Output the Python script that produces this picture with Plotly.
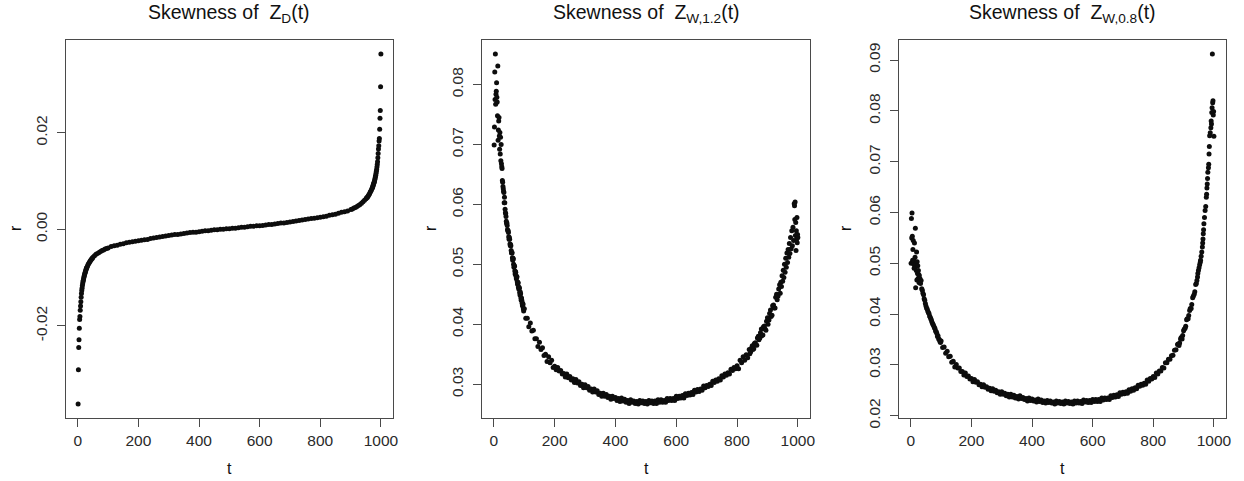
import plotly.graph_objects as go

FONT = "Liberation Sans, Arial, Helvetica, sans-serif"
W, H = 1244, 481

# ---------------- Skewness of Z_D(t) ----------------
T_ZD_LEFT = [1, 2, 3, 4, 5, 6, 7, 8, 9, 10, 11, 12, 13, 14, 15, 16, 17, 18, 19, 20,
             21, 22, 23, 24, 25, 26, 27, 28, 29, 30, 32, 34, 36, 38, 40, 42, 44, 46, 48, 50,
             55, 60, 65, 70, 75, 80, 85, 90, 95, 100]
R_ZD_LEFT = [-0.0362, -0.0291, -0.0245, -0.0229, -0.0205, -0.0187, -0.0181, -0.0168, -0.0159, -0.0150,
             -0.0141, -0.0133, -0.0127, -0.0122, -0.0117, -0.0113, -0.0109, -0.0106, -0.0103, -0.0100,
             -0.0097, -0.0095, -0.0092, -0.0090, -0.0088, -0.0086, -0.0084, -0.0082, -0.0080, -0.0079,
             -0.0076, -0.0073, -0.0071, -0.0069, -0.0067, -0.0065, -0.0063, -0.0061, -0.0060, -0.0058,
             -0.0055, -0.0052, -0.0050, -0.0048, -0.0046, -0.0044, -0.0043, -0.0041, -0.0040, -0.0039]
T_ZD_MID = list(range(110, 900, 10))
R_ZD_MID = [-0.0036, -0.0034, -0.0033, -0.0031, -0.0030, -0.0028, -0.0027, -0.0026, -0.0025, -0.0024,
            -0.0023, -0.0022, -0.0021, -0.0019, -0.0018, -0.0017, -0.0016, -0.0015, -0.0014, -0.0013,
            -0.0012, -0.0011, -0.0011, -0.0010, -0.0009, -0.0008, -0.0007, -0.0006, -0.0006, -0.0005,
            -0.0004, -0.0003, -0.0003, -0.0002, -0.0001, -0.0001, 0.0000, 0.0000, 0.0001, 0.0001,
            0.0002, 0.0002, 0.0003, 0.0004, 0.0004, 0.0005, 0.0006, 0.0006, 0.0007, 0.0007,
            0.0008, 0.0009, 0.0010, 0.0010, 0.0011, 0.0012, 0.0013, 0.0013, 0.0014, 0.0015,
            0.0016, 0.0017, 0.0018, 0.0019, 0.0020, 0.0021, 0.0022, 0.0023, 0.0024, 0.0025,
            0.0026, 0.0027, 0.0029, 0.0030, 0.0031, 0.0033, 0.0035, 0.0036, 0.0038]
T_ZD_RIGHT = [901, 906, 911, 916, 921, 926, 931, 936, 941, 946, 951, 953, 955, 957, 959, 961, 963, 965,
              967, 969, 971, 972, 973, 974, 975, 976, 977, 978, 979, 980, 981, 982, 983, 984, 985, 986,
              987, 988, 989, 990, 991, 992, 993, 994, 995, 996, 997, 998, 999, 1000]
R_ZD_RIGHT = [0.0041, 0.0042, 0.0044, 0.0045, 0.0047, 0.0049, 0.0051, 0.0054, 0.0057, 0.0060,
              0.0063, 0.0065, 0.0066, 0.0068, 0.0070, 0.0072, 0.0074, 0.0077, 0.0079, 0.0082,
              0.0085, 0.0086, 0.0088, 0.0090, 0.0092, 0.0094, 0.0096, 0.0098, 0.0100, 0.0103,
              0.0106, 0.0109, 0.0112, 0.0116, 0.0120, 0.0124, 0.0129, 0.0134, 0.0140, 0.0148,
              0.0157, 0.0166, 0.0173, 0.0183, 0.0188, 0.0207, 0.0230, 0.0246, 0.0295, 0.0363]

# ---------------- Skewness of Z_W,1.2(t) ----------------
T_W12_LEFT = list(range(1, 35)) + list(range(36, 100, 2))
R_W12_LEFT = [0.0699, 0.0729, 0.0821, 0.0775, 0.0851, 0.0767, 0.0784, 0.0789, 0.0803, 0.0779,
              0.0771, 0.0748, 0.0831, 0.0707, 0.0724, 0.0739, 0.0745, 0.0714, 0.0692, 0.0720,
              0.0684, 0.0712, 0.0673, 0.0700, 0.0668, 0.0663, 0.0660, 0.0640, 0.0637, 0.0630,
              0.0626, 0.0622, 0.0620, 0.0603,
              0.0603, 0.0586, 0.0580, 0.0568, 0.0565, 0.0556, 0.0553, 0.0542, 0.0542, 0.0531,
              0.0531, 0.0519, 0.0519, 0.0507, 0.0509, 0.0495, 0.0497, 0.0484, 0.0487, 0.0476,
              0.0479, 0.0467, 0.0469, 0.0459, 0.0460, 0.0449, 0.0451, 0.0440, 0.0440, 0.0431,
              0.0433, 0.0422]
T_W12_EXTRA = list(range(35, 100, 2)) + list(range(842, 940, 5))
R_W12_EXTRA = [0.0612, 0.0592, 0.0585, 0.0572, 0.0569, 0.0558, 0.0556, 0.0546, 0.0545, 0.0534,
               0.0533, 0.0523, 0.0520, 0.0511, 0.0510, 0.0500, 0.0498, 0.0489, 0.0488, 0.0480,
               0.0480, 0.0471, 0.0470, 0.0462, 0.0462, 0.0453, 0.0454, 0.0444, 0.0444, 0.0435,
               0.0435, 0.0426, 0.0426,
               0.0351, 0.0360, 0.0358, 0.0368, 0.0366, 0.0377, 0.0374, 0.0386, 0.0381, 0.0396,
               0.0392, 0.0405, 0.0400, 0.0418, 0.0413, 0.0431, 0.0427, 0.0445, 0.0441, 0.0459]
T_W12_MID = list(range(100, 945, 5))
R_W12_MID = [0.0426, 0.0410, 0.0410, 0.0396, 0.0402, 0.0389, 0.0390, 0.0376, 0.0376, 0.0363,
             0.0370, 0.0358, 0.0361, 0.0348, 0.0350, 0.0338, 0.0346, 0.0336, 0.0340, 0.0328,
             0.0330, 0.0324, 0.0328, 0.0322, 0.0323, 0.0317, 0.0318, 0.0312, 0.0317, 0.0311,
             0.0313, 0.0307, 0.0309, 0.0303, 0.0308, 0.0302, 0.0304, 0.0298, 0.0300, 0.0294,
             0.0299, 0.0294, 0.0296, 0.0290, 0.0292, 0.0287, 0.0292, 0.0287, 0.0289, 0.0283,
             0.0285, 0.0280, 0.0285, 0.0280, 0.0283, 0.0278, 0.0280, 0.0275, 0.0280, 0.0276,
             0.0278, 0.0273, 0.0276, 0.0271, 0.0277, 0.0272, 0.0275, 0.0270, 0.0273, 0.0268,
             0.0274, 0.0270, 0.0272, 0.0268, 0.0271, 0.0267, 0.0273, 0.0269, 0.0272, 0.0268,
             0.0271, 0.0267, 0.0273, 0.0269, 0.0272, 0.0268, 0.0272, 0.0268, 0.0274, 0.0270,
             0.0274, 0.0270, 0.0273, 0.0270, 0.0276, 0.0273, 0.0276, 0.0273, 0.0276, 0.0273,
             0.0280, 0.0276, 0.0280, 0.0277, 0.0281, 0.0277, 0.0284, 0.0281, 0.0285, 0.0282,
             0.0286, 0.0283, 0.0290, 0.0287, 0.0291, 0.0288, 0.0292, 0.0290, 0.0297, 0.0294,
             0.0298, 0.0296, 0.0300, 0.0298, 0.0305, 0.0303, 0.0307, 0.0305, 0.0309, 0.0307,
             0.0314, 0.0312, 0.0317, 0.0315, 0.0319, 0.0317, 0.0325, 0.0323, 0.0328, 0.0326,
             0.0331, 0.0326, 0.0340, 0.0336, 0.0346, 0.0340, 0.0349, 0.0344, 0.0358, 0.0354,
             0.0364, 0.0359, 0.0369, 0.0365, 0.0380, 0.0377,
             0.0392, 0.0382, 0.0397, 0.0390, 0.0411, 0.0407, 0.0424, 0.0415, 0.0432, 0.0427,
             0.0450, 0.0447, 0.0466]
T_W12_RIGHT = [942, 944, 946, 948, 950, 952, 954, 956, 958, 960, 962, 964, 966, 968, 970, 972, 974, 976,
               978, 980, 982, 984, 986, 988, 989, 990, 991, 992, 993, 994, 995, 996, 997, 998, 999, 1000]
R_W12_RIGHT = [0.0452, 0.0470, 0.0463, 0.0481, 0.0472, 0.0490, 0.0478, 0.0500, 0.0487, 0.0510,
               0.0495, 0.0519, 0.0503, 0.0525, 0.0512, 0.0535, 0.0518, 0.0545, 0.0526, 0.0556,
               0.0531, 0.0562, 0.0540, 0.0601, 0.0598, 0.0575, 0.0604, 0.0548, 0.0570, 0.0523,
               0.0556, 0.0542, 0.0578, 0.0536, 0.0550, 0.0545]

# ---------------- Skewness of Z_W,0.8(t) ----------------
T_W08_LEFT = list(range(1, 29)) + list(range(30, 100, 2))
R_W08_LEFT = [0.0500, 0.0588, 0.0550, 0.0599, 0.0553, 0.0506, 0.0527, 0.0545, 0.0499, 0.0506,
              0.0490, 0.0540, 0.0493, 0.0512, 0.0569, 0.0452, 0.0499, 0.0486, 0.0522, 0.0467,
              0.0503, 0.0480, 0.0495, 0.0470, 0.0486, 0.0478, 0.0462, 0.0476,
              0.0470, 0.0460, 0.0466, 0.0450, 0.0447, 0.0441, 0.0438, 0.0430, 0.0427, 0.0421,
              0.0416, 0.0412, 0.0410, 0.0406, 0.0403, 0.0401, 0.0396, 0.0394, 0.0391, 0.0388,
              0.0384, 0.0381, 0.0379, 0.0376, 0.0373, 0.0371, 0.0366, 0.0365, 0.0362, 0.0356,
              0.0357, 0.0351, 0.0350, 0.0346, 0.0344]
T_W08_EXTRA = list(range(882, 940, 5))
R_W08_EXTRA = [0.0341, 0.0343, 0.0354, 0.0358, 0.0370, 0.0376, 0.0391, 0.0397, 0.0411, 0.0419,
               0.0435, 0.0444]
T_W08_MID = list(range(100, 945, 5))
R_W08_MID = [0.0347, 0.0334, 0.0335, 0.0323, 0.0327, 0.0316, 0.0317, 0.0305, 0.0307, 0.0296,
             0.0301, 0.0294, 0.0294, 0.0287, 0.0287, 0.0280, 0.0284, 0.0277, 0.0278, 0.0272,
             0.0273, 0.0267, 0.0271, 0.0266, 0.0267, 0.0261, 0.0262, 0.0257, 0.0261, 0.0256,
             0.0257, 0.0252, 0.0254, 0.0249, 0.0253, 0.0248, 0.0250, 0.0245, 0.0247, 0.0242,
             0.0247, 0.0242, 0.0244, 0.0239, 0.0242, 0.0237, 0.0242, 0.0237, 0.0240, 0.0235,
             0.0238, 0.0233, 0.0239, 0.0234, 0.0236, 0.0232, 0.0234, 0.0229, 0.0235, 0.0230,
             0.0233, 0.0229, 0.0231, 0.0227, 0.0233, 0.0228, 0.0231, 0.0226, 0.0229, 0.0225,
             0.0230, 0.0226, 0.0229, 0.0225, 0.0227, 0.0223, 0.0229, 0.0225, 0.0228, 0.0224,
             0.0227, 0.0223, 0.0229, 0.0225, 0.0228, 0.0224, 0.0227, 0.0223, 0.0229, 0.0225,
             0.0229, 0.0225, 0.0228, 0.0224, 0.0231, 0.0227, 0.0230, 0.0226, 0.0230, 0.0226,
             0.0232, 0.0228, 0.0232, 0.0228, 0.0232, 0.0228, 0.0235, 0.0231, 0.0235, 0.0232,
             0.0235, 0.0232, 0.0239, 0.0236, 0.0240, 0.0237, 0.0241, 0.0238, 0.0245, 0.0242,
             0.0246, 0.0243, 0.0247, 0.0244, 0.0251, 0.0248, 0.0253, 0.0250, 0.0255, 0.0253,
             0.0260, 0.0258, 0.0262, 0.0260, 0.0264, 0.0262, 0.0270, 0.0268, 0.0273, 0.0272,
             0.0277, 0.0275, 0.0284, 0.0282, 0.0288, 0.0288, 0.0295, 0.0294, 0.0304, 0.0304,
             0.0311, 0.0311, 0.0318, 0.0319, 0.0329, 0.0330,
             0.0340, 0.0338, 0.0351, 0.0351, 0.0367, 0.0372, 0.0389, 0.0391, 0.0407, 0.0411,
             0.0432, 0.0439, 0.0458]
T_W08_RIGHT = [942, 944, 946, 947, 949, 951, 953, 955, 956, 958, 960, 962, 963, 964, 965, 966, 967, 969,
               971, 973, 975, 976, 977, 978, 979, 980, 982, 983, 984, 985, 986, 988, 990, 991, 992, 993,
               994, 995, 996, 997, 998, 999, 1000]
R_W08_RIGHT = [0.0460, 0.0466, 0.0473, 0.0480, 0.0486, 0.0491, 0.0497, 0.0502, 0.0506, 0.0514,
               0.0522, 0.0532, 0.0540, 0.0548, 0.0558, 0.0566, 0.0578, 0.0590, 0.0604, 0.0612,
               0.0630, 0.0636, 0.0648, 0.0656, 0.0667, 0.0679, 0.0688, 0.0695, 0.0715, 0.0730,
               0.0751, 0.0757, 0.0767, 0.0780, 0.0774, 0.0797, 0.0806, 0.0912, 0.0816, 0.0820,
               0.0792, 0.0799, 0.0750]

T_TICKS = [0, 200, 400, 600, 800, 1000]
Y_TICKS = [
    [-0.02, 0.0, 0.02],
    [0.03, 0.04, 0.05, 0.06, 0.07, 0.08],
    [0.02, 0.03, 0.04, 0.05, 0.06, 0.07, 0.08, 0.09],
]
Y_LABELS = [
    ["-0.02", "0.00", "0.02"],
    ["0.03", "0.04", "0.05", "0.06", "0.07", "0.08"],
    ["0.02", "0.03", "0.04", "0.05", "0.06", "0.07", "0.08", "0.09"],
]
TITLES = [
    "Skewness of  Z<sub>D</sub>(t)",
    "Skewness of  Z<sub>W,1.2</sub>(t)",
    "Skewness of  Z<sub>W,0.8</sub>(t)",
]

SERIES = [
    (T_ZD_LEFT + T_ZD_MID + T_ZD_RIGHT, R_ZD_LEFT + R_ZD_MID + R_ZD_RIGHT),
    (T_W12_LEFT + T_W12_EXTRA + T_W12_MID + T_W12_RIGHT,
     R_W12_LEFT + R_W12_EXTRA + R_W12_MID + R_W12_RIGHT),
    (T_W08_LEFT + T_W08_EXTRA + T_W08_MID + T_W08_RIGHT,
     R_W08_LEFT + R_W08_EXTRA + R_W08_MID + R_W08_RIGHT),
]

# layout geometry (pixels)
BOX_X = [(66, 393), (482, 810), (899, 1226)]
BOX_Y = (40, 418)
YLAB_X = [15, 430, 845]

AX_COL = "#4a4a4a"
TXT_COL = "#2a2a2a"

fig = go.Figure()
annotations = []
for i, (ts, rs) in enumerate(SERIES):
    n = "" if i == 0 else str(i + 1)
    fig.add_trace(go.Scatter(
        x=ts, y=rs, mode="markers",
        marker=dict(size=5, color="#0d0d0d", line=dict(width=0)),
        xaxis="x" + n, yaxis="y" + n, showlegend=False, hoverinfo="x+y",
    ))
    tmin, tmax = min(ts), max(ts)
    rmin, rmax = min(rs), max(rs)
    tp = 0.04 * (tmax - tmin)
    rp = 0.04 * (rmax - rmin)
    x0, x1 = BOX_X[i]
    common = dict(
        showline=True, mirror=True, linecolor=AX_COL, linewidth=1,
        ticks="outside", ticklen=8, tickcolor=AX_COL, tickwidth=1,
        showgrid=False, zeroline=False, automargin=False,
        tickfont=dict(family=FONT, size=15.5, color=TXT_COL),
    )
    fig.layout["xaxis" + n] = dict(
        domain=[x0 / W, x1 / W], range=[tmin - tp, tmax + tp],
        anchor="y" + n, tickmode="array", tickvals=T_TICKS,
        ticktext=[str(v) for v in T_TICKS], **common,
    )
    fig.layout["yaxis" + n] = dict(
        domain=[1 - BOX_Y[1] / H, 1 - BOX_Y[0] / H], range=[rmin - rp, rmax + rp],
        anchor="x" + n, tickmode="array", tickvals=Y_TICKS[i], ticktext=Y_LABELS[i],
        tickangle=-90, ticklabelstandoff=4, **common,
    )
    cx = (x0 + x1) / 2 / W
    annotations.append(dict(
        text=TITLES[i], x=cx, y=1.0, xref="paper", yref="paper",
        xanchor="center", yanchor="top", showarrow=False, borderpad=0,
        font=dict(family=FONT, size=19.5, color="#111111"),
    ))
    annotations.append(dict(
        text="t", x=cx, y=1 - 468 / H, xref="paper", yref="paper",
        xanchor="center", yanchor="middle", showarrow=False,
        font=dict(family=FONT, size=16, color="#111111"),
    ))
    annotations.append(dict(
        text="r", x=YLAB_X[i] / W, y=1 - 228 / H, xref="paper", yref="paper",
        xanchor="center", yanchor="middle", showarrow=False, textangle=-90,
        font=dict(family=FONT, size=16, color="#111111"),
    ))

fig.update_layout(
    width=W, height=H,
    margin=dict(l=0, r=0, t=0, b=0),
    paper_bgcolor="white", plot_bgcolor="white",
    font=dict(family=FONT),
    annotations=annotations,
)

fig.write_html(
    "out.html",
    config={"displayModeBar": False},
    post_script="document.body.style.margin='0';document.body.style.overflow='hidden';",
)
